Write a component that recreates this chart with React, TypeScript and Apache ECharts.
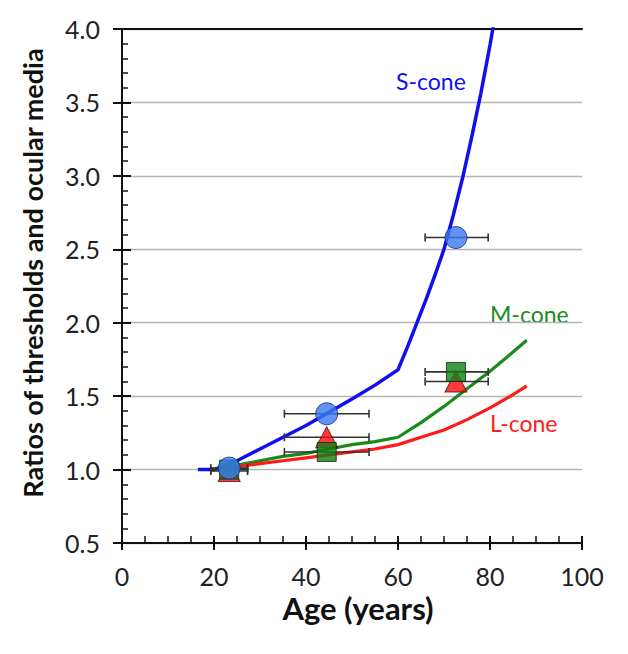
import React, { useEffect, useRef } from "react";
import * as echarts from "echarts";

// Model curves
const sConeAge = [16.5, 20, 25, 30, 35, 40, 45, 50, 55, 60, 62, 64, 66, 68, 70, 72, 74, 76, 78, 80, 82, 84];
const sConeVal = [1.0, 1.0, 1.06, 1.14, 1.22, 1.3, 1.39, 1.48, 1.575, 1.68, 1.83, 1.99, 2.15, 2.32, 2.5, 2.73, 2.98, 3.26, 3.56, 3.89, 4.25, 4.63];
const mlConeAge = [22, 25, 30, 35, 40, 45, 50, 55, 60, 65, 70, 75, 80, 85, 88];
const mConeVal = [1.0, 1.03, 1.06, 1.09, 1.11, 1.14, 1.17, 1.19, 1.22, 1.32, 1.43, 1.55, 1.67, 1.8, 1.88];
const lConeVal = [1.0, 1.02, 1.04, 1.06, 1.08, 1.1, 1.12, 1.14, 1.17, 1.22, 1.27, 1.34, 1.42, 1.51, 1.57];

// Measured points (mean age, ratio) with age ranges
const pointAge = [23.3, 44.5, 72.6];
const sPoint = [1.01, 1.38, 2.58];
const lPoint = [0.99, 1.22, 1.6];
const mPoint = [1.0, 1.12, 1.665];
const ageLow = [19.3, 35.3, 65.9];
const ageHigh = [27.3, 53.7, 79.6];

// Axis ticks
const xTicks = [0, 20, 40, 60, 80, 100];
const yTicks = [0.5, 1.0, 1.5, 2.0, 2.5, 3.0, 3.5, 4.0];

const FONT = "Lato";

const pairs = (xs: number[], ys: number[]) => xs.map((x, i) => [x, ys[i]]);
const errData = (ys: number[]) => ys.map((y, i) => [ageLow[i], ageHigh[i], y]);

function errSeries(ys: number[]) {
  return {
    type: "custom",
    xAxisIndex: 0,
    yAxisIndex: 0,
    z: 3,
    encode: { x: [0, 1], y: 2 },
    data: errData(ys),
    renderItem: (_p: any, api: any) => {
      const a = api.coord([api.value(0), api.value(2)]);
      const b = api.coord([api.value(1), api.value(2)]);
      const c = 4;
      const st = { stroke: "#333", lineWidth: 1.6 };
      return {
        type: "group",
        children: [
          { type: "line", shape: { x1: a[0], y1: a[1], x2: b[0], y2: b[1] }, style: st },
          { type: "line", shape: { x1: a[0], y1: a[1] - c, x2: a[0], y2: a[1] + c }, style: st },
          { type: "line", shape: { x1: b[0], y1: b[1] - c, x2: b[0], y2: b[1] + c }, style: st },
        ],
      };
    },
  };
}

export default function App() {
  const ref = useRef<HTMLDivElement>(null);
  useEffect(() => {
    if (!ref.current) return;
    const chart = echarts.init(ref.current, undefined, { renderer: "svg" });
    const labelStyle = { fontFamily: FONT, fontSize: 25, color: "#222" };
    const xBase = { type: "value", min: 0, max: 100, interval: 20 };
    const yBase = { type: "value", min: 0.5, max: 4, interval: 0.5 };
    chart.setOption({
      animation: false,
      backgroundColor: "#fff",
      grid: { left: 122, right: 46, top: 29, bottom: 111 },
      xAxis: [
        {
          ...xBase,
          position: "bottom",
          name: "Age (years)",
          nameLocation: "middle",
          nameGap: 48,
          nameTextStyle: { fontFamily: FONT, fontSize: 31, fontWeight: "bold", color: "#111", padding: [0, 0, 0, 12] },
          axisLine: { show: true, lineStyle: { color: "#111", width: 2 } },
          axisTick: { show: true, inside: true, length: 7, lineStyle: { color: "#111", width: 2 } },
          minorTick: { show: true, splitNumber: 4, length: 7, lineStyle: { color: "#111", width: 1.5 } },
          axisLabel: { ...labelStyle, margin: 20, formatter: (v: number) => (xTicks.includes(v) ? String(v) : "") },
          splitLine: { show: false },
        },
        {
          ...xBase,
          position: "bottom",
          axisLine: { show: false },
          axisTick: { show: true, inside: false, length: 7, lineStyle: { color: "#111", width: 2 } },
          axisLabel: { show: false },
          splitLine: { show: false },
        },
        {
          ...xBase,
          position: "top",
          axisLine: { show: true, lineStyle: { color: "#111", width: 2 } },
          axisTick: { show: false },
          axisLabel: { show: false },
          splitLine: { show: false },
        },
      ],
      yAxis: [
        {
          ...yBase,
          position: "left",
          name: "Ratios of thresholds and ocular media",
          nameLocation: "middle",
          nameGap: 76,
          nameRotate: 90,
          nameTextStyle: { fontFamily: FONT, fontSize: 27, fontWeight: "bold", color: "#111", padding: [0, 0, 0, 26] },
          axisLine: { show: true, lineStyle: { color: "#111", width: 2 } },
          axisTick: { show: true, inside: true, length: 9, lineStyle: { color: "#111", width: 2 } },
          minorTick: { show: true, splitNumber: 5, length: 6, lineStyle: { color: "#111", width: 1.5 } },
          axisLabel: {
            ...labelStyle,
            margin: 22,
            formatter: (v: number) => (yTicks.some((t) => Math.abs(t - v) < 1e-6) ? v.toFixed(1) : ""),
          },
          splitLine: { show: true, lineStyle: { color: "#b5b5b5", width: 1.3 } },
        },
        {
          ...yBase,
          position: "left",
          axisLine: { show: false },
          axisTick: { show: true, inside: false, length: 9, lineStyle: { color: "#111", width: 2 } },
          axisLabel: { show: false },
          splitLine: { show: false },
        },
      ],
      series: [
        {
          name: "S-cone model",
          type: "line",
          data: pairs(sConeAge, sConeVal),
          symbol: "none",
          clip: true,
          z: 2,
          lineStyle: { color: "#1010ee", width: 3.5 },
        },
        {
          name: "M-cone model",
          type: "line",
          data: pairs(mlConeAge, mConeVal),
          symbol: "none",
          z: 2,
          lineStyle: { color: "#1a8a1a", width: 3.2 },
        },
        {
          name: "L-cone model",
          type: "line",
          data: pairs(mlConeAge, lConeVal),
          symbol: "none",
          z: 2,
          lineStyle: { color: "#ff1a1a", width: 3.2 },
        },
        errSeries(sPoint),
        errSeries(lPoint),
        errSeries(mPoint),
        {
          name: "L-cone data",
          type: "scatter",
          data: pairs(pointAge, lPoint),
          symbol: "triangle",
          symbolSize: [22, 21],
          z: 4,
          itemStyle: { color: "#ff0a0a", borderColor: "#4a1010", borderWidth: 1 },
        },
        {
          name: "M-cone data",
          type: "scatter",
          data: pairs(pointAge, mPoint),
          symbol: "rect",
          symbolSize: 19,
          z: 5,
          itemStyle: { color: "#127f12", borderColor: "#0c2a0c", borderWidth: 1 },
        },
        {
          name: "S-cone data",
          type: "scatter",
          data: pairs(pointAge, sPoint),
          symbol: "circle",
          symbolSize: 22,
          z: 6,
          itemStyle: { color: "#3a78f2", borderColor: "#1c2f66", borderWidth: 1 },
        },
      ],
      graphic: [
        { type: "text", left: 396, top: 69, style: { text: "S-cone", fill: "#1010ee", font: `23px ${FONT}` } },
        { type: "text", left: 490, top: 302, style: { text: "M-cone", fill: "#1a8a1a", font: `23px ${FONT}` } },
        { type: "text", left: 490, top: 411, style: { text: "L-cone", fill: "#ff1a1a", font: `23px ${FONT}` } },
      ],
    });
    return () => chart.dispose();
  }, []);
  return <div ref={ref} style={{ position: "fixed", left: 0, top: 0, width: 628, height: 654 }} />;
}
